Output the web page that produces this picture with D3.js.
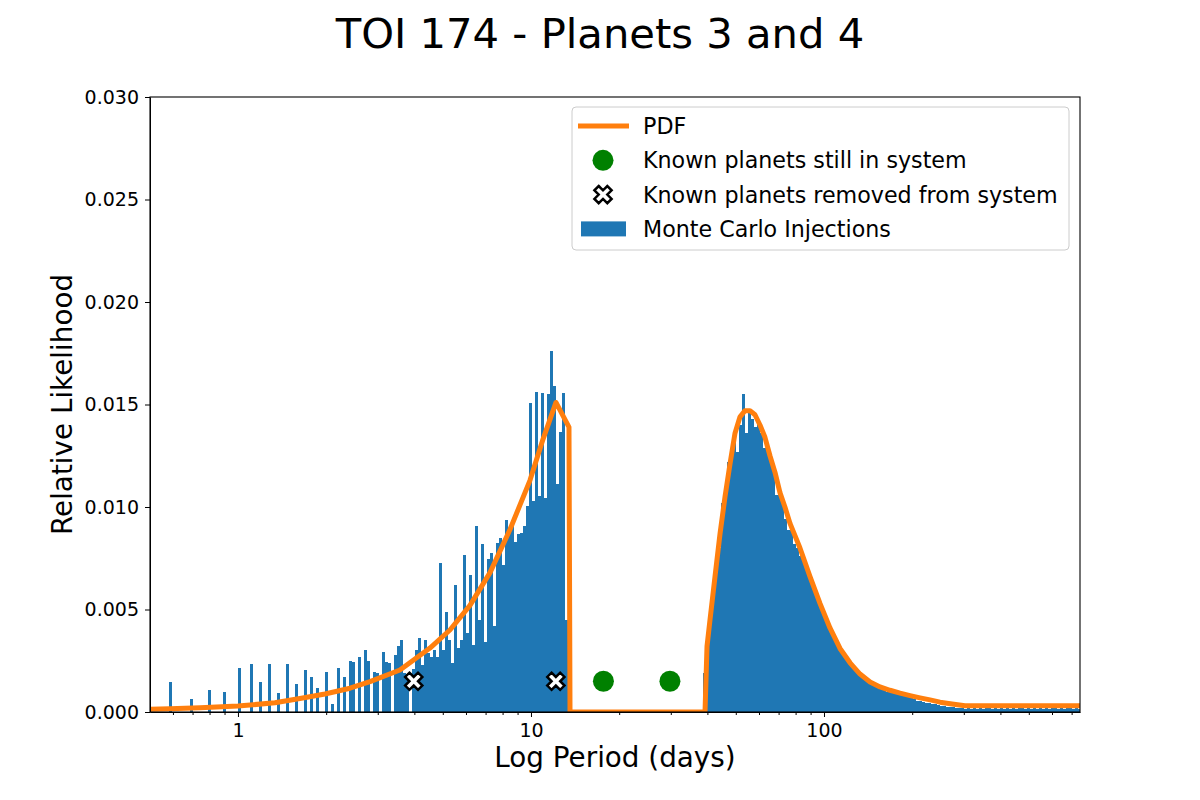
<!DOCTYPE html>
<html>
<head>
<meta charset="utf-8">
<script src="https://cdn.jsdelivr.net/npm/d3@7"></script>
<style>
  body { margin: 0; background: #fff; }
  svg { display: block; font-family: "DejaVu Sans", sans-serif; }
</style>
</head>
<body>
<script>
// histogram bins are even in log10(period)
const binLogStart = -0.2355;
const binLogWidth = 0.01024;

// relative likelihood of each bin (Monte Carlo injections)
const injectionDensity = [
  0.00146, 0, 0, 0, 0, 0, 0, 0.00063, 0, 0,
  0, 0, 0, 0.00107, 0, 0, 0, 0, 0.00098, 0,
  0, 0, 0, 0.00215, 0, 0, 0, 0.00234, 0, 0,
  0.00146, 0, 0, 0.00234, 0, 0, 0.00093, 0, 0, 0.00234,
  0, 0, 0.00137, 0, 0, 0.00205, 0, 0.00171, 0, 0.00117,
  0, 0, 0.00195, 0, 0.00039, 0, 0.00215, 0, 0.00171, 0,
  0.00249, 0.00244, 0, 0.00268, 0, 0.00302, 0.00249, 0, 0.00195, 0.0019,
  0, 0.00293, 0.00244, 0.00239, 0, 0.00278, 0.00322, 0.00351, 0.0019, 0.00185,
  0, 0.0021, 0.00302, 0.00361, 0.0023, 0.00351, 0.00288, 0.00268, 0.00302, 0.00268,
  0.00727, 0.00302, 0.0049, 0.00351, 0.0024, 0.0062, 0.00312, 0.00351, 0.00766, 0.00385,
  0.00668, 0.00327, 0.00907, 0.00449, 0.0082, 0.00341, 0.00746, 0.00776, 0.0042, 0.00824,
  0.00849, 0.00717, 0.00937, 0.00893, 0.00937, 0.00829, 0.00868, 0.00873, 0.00907, 0.01005,
  0.01507, 0.01029, 0.01561, 0.01054, 0.01556, 0.01044, 0.01551, 0.01761, 0.0159, 0.01112,
  0.01366, 0.01556, 0.00449, 0, 0, 0, 0, 0, 0, 0,
  0, 0, 0, 0, 0, 0, 0, 0, 0, 0,
  0, 0, 0, 0, 0, 0, 0, 0, 0, 0,
  0, 0, 0, 0, 0, 0, 0, 0, 0, 0,
  0, 0, 0, 0, 0, 0, 0, 0, 0.0019, 0.0036,
  0.0050, 0.0063, 0.0068, 0.0080, 0.0102, 0.0103, 0.0122, 0.0124, 0.0137, 0.0127,
  0.0140, 0.0155, 0.0136, 0.0147, 0.0143, 0.0139, 0.0142, 0.0136, 0.0129, 0.0128,
  0.0124, 0.0118, 0.0106, 0.0110, 0.0104, 0.0094, 0.0089, 0.0089, 0.0082, 0.0080,
  0.0076, 0.0074, 0.0071, 0.0067, 0.0063, 0.0059, 0.0055, 0.0051, 0.0048, 0.0044,
  0.0041, 0.0038, 0.0035, 0.0032, 0.0030, 0.0027, 0.0025, 0.0023, 0.0021, 0.0019,
  0.0018, 0.0017, 0.0016, 0.0015, 0.0014, 0.0013, 0.0012, 0.0012, 0.0011, 0.0010,
  0.00098, 0.00094, 0.0009, 0.00086, 0.00082, 0.00077, 0.00072, 0.00066, 0.00061, 0.00056,
  0.00052, 0.00049, 0.00046, 0.00043, 0.0004, 0.00037, 0.00034, 0.00031, 0.00028, 0.00026,
  0.00024, 0.00022, 0.0002, 0.00019, 0.00018, 0.00017, 0.00018, 0.00017, 0.00018, 0.00017,
  0.00018, 0.00017, 0.00018, 0.00018, 0.00017, 0.00018, 0.00017, 0.00018, 0.00017, 0.00018,
  0.00017, 0.00018, 0.00017, 0.00018, 0.00018, 0.00017, 0.00018, 0.00017, 0.00018, 0.00017,
  0.00018, 0.00017, 0.00018, 0.00017, 0.00018, 0.00018, 0.00017, 0.00018, 0.00017, 0.00018,
  0.00018, 0.00017, 0.00018, 0.00017
];

// PDF curve samples
const pdfPeriods = [
  0.501, 0.586, 0.742, 1.0, 1.337, 1.627, 1.981, 2.412, 2.822, 3.572,
  4.521, 5.29, 6.192, 7.247, 8.479, 9.922, 10.99, 12.17, 13.48, 13.59,
  39.26, 39.88, 40.83, 42.46, 44.18, 45.94, 47.78, 49.69, 51.69, 53.76,
  55.89, 58.14, 60.46, 62.88, 65.4, 68.02, 70.75, 73.57, 76.56, 82.79,
  89.59, 96.89, 104.8, 113.4, 122.7, 132.7, 143.6, 155.3, 168.0, 181.8,
  196.6, 212.7, 230.1, 248.9, 273.5, 302.8, 747.6
];
const pdfValues = [
  0.00014, 0.00016, 0.00021, 0.00029, 0.00045, 0.00066, 0.00088, 0.00116, 0.00148, 0.00205,
  0.00312, 0.0040, 0.0052, 0.0068, 0.0089, 0.0113, 0.0133, 0.0151, 0.0139, 0,
  0, 0.0032, 0.0045, 0.0066, 0.0087, 0.0105, 0.0121, 0.0136, 0.0144, 0.0147,
  0.0147, 0.0145, 0.0140, 0.0134, 0.0125, 0.0117, 0.0107, 0.0100, 0.0092, 0.0080,
  0.0066, 0.0053, 0.0041, 0.0031, 0.0024, 0.00185, 0.00146, 0.00122, 0.00106, 0.00092,
  0.0008, 0.00069, 0.00059, 0.00048, 0.00039, 0.0003, 0.0003
];

const keptPlanets = [17.67, 29.8];
const removedPlanets = [3.98, 12.16];
const markerLevel = 0.0015;

const xTickValues = [1, 10, 100];
const yTickValues = [0, 0.005, 0.01, 0.015, 0.02, 0.025, 0.03];
const legendLabels = [
  "PDF",
  "Known planets still in system",
  "Known planets removed from system",
  "Monte Carlo Injections"
];

const width = 1200;
const height = 800;
const plot = { left: 150, right: 1080, top: 97, bottom: 712 };
const blue = "#1f77b4";
const orange = "#ff7f0e";
const green = "#008000";

const svg = d3.select("body").append("svg")
  .attr("width", width)
  .attr("height", height);

const x = d3.scaleLog()
  .domain([0.501, 747.6])
  .range([plot.left, plot.right]);

const y = d3.scaleLinear()
  .domain([0, 0.03])
  .range([plot.bottom, plot.top]);

svg.append("defs").append("clipPath")
  .attr("id", "clip")
  .append("rect")
  .attr("x", plot.left)
  .attr("y", plot.top)
  .attr("width", plot.right - plot.left)
  .attr("height", plot.bottom - plot.top);

const bins = injectionDensity.map((v, i) => ({
  p0: Math.pow(10, binLogStart + i * binLogWidth),
  p1: Math.pow(10, binLogStart + (i + 1) * binLogWidth),
  v
}));

const chart = svg.append("g").attr("clip-path", "url(#clip)");

chart.append("g")
  .selectAll("rect")
  .data(bins.filter(d => d.v > 0))
  .join("rect")
  .attr("x", d => x(d.p0))
  .attr("width", d => x(d.p1) - x(d.p0))
  .attr("y", d => y(d.v))
  .attr("height", d => y(0) - y(d.v))
  .attr("fill", blue)
  .attr("shape-rendering", "crispEdges");

const line = d3.line()
  .x(d => x(d[0]))
  .y(d => y(d[1]));

chart.append("path")
  .datum(pdfPeriods.map((p, i) => [p, pdfValues[i]]))
  .attr("d", line)
  .attr("fill", "none")
  .attr("stroke", orange)
  .attr("stroke-width", 5)
  .attr("stroke-linejoin", "round");

const xMarker = d3.symbol(d3.symbolCross, 185);

svg.append("g")
  .selectAll("circle")
  .data(keptPlanets)
  .join("circle")
  .attr("cx", d => x(d))
  .attr("cy", y(markerLevel))
  .attr("r", 10.5)
  .attr("fill", green);

svg.append("g")
  .selectAll("path")
  .data(removedPlanets)
  .join("path")
  .attr("d", xMarker)
  .attr("transform", d => `translate(${x(d)},${y(markerLevel)}) rotate(45)`)
  .attr("fill", "#fff")
  .attr("stroke", "#000")
  .attr("stroke-width", 2.5);

// axes
const minorTicks = [];
[0.1, 1, 10, 100].forEach(dec => {
  for (let k = 2; k <= 9; k++) {
    const t = dec * k;
    if (t >= x.domain()[0] && t <= x.domain()[1]) minorTicks.push(t);
  }
});

const xAxis = svg.append("g")
  .attr("transform", `translate(0,${plot.bottom})`)
  .call(d3.axisBottom(x).tickValues(xTickValues).tickFormat(d3.format("d"))
    .tickSize(5).tickPadding(7).tickSizeOuter(0));

svg.append("g")
  .attr("transform", `translate(0,${plot.bottom})`)
  .call(d3.axisBottom(x).tickValues(minorTicks).tickFormat("")
    .tickSize(3).tickSizeOuter(0))
  .call(g => g.select(".domain").remove());

const yAxis = svg.append("g")
  .attr("transform", `translate(${plot.left},0)`)
  .call(d3.axisLeft(y).tickValues(yTickValues).tickFormat(d3.format(".3f"))
    .tickSize(5).tickPadding(6).tickSizeOuter(0));

[xAxis, yAxis].forEach(g => g
  .attr("font-family", "DejaVu Sans, sans-serif")
  .attr("font-size", 19)
  .selectAll("text").attr("fill", "#000"));

svg.selectAll(".tick line").attr("stroke", "#000");

// frame
svg.append("rect")
  .attr("x", plot.left)
  .attr("y", plot.top)
  .attr("width", plot.right - plot.left)
  .attr("height", plot.bottom - plot.top)
  .attr("fill", "none")
  .attr("stroke", "#000")
  .attr("stroke-width", 1.1);

// titles
svg.append("text")
  .attr("x", 600)
  .attr("y", 48)
  .attr("text-anchor", "middle")
  .attr("font-size", 41.7)
  .text("TOI 174 - Planets 3 and 4");

svg.append("text")
  .attr("x", (plot.left + plot.right) / 2)
  .attr("y", 767)
  .attr("text-anchor", "middle")
  .attr("font-size", 27.8)
  .text("Log Period (days)");

svg.append("text")
  .attr("transform", `translate(72,${(plot.top + plot.bottom) / 2}) rotate(-90)`)
  .attr("text-anchor", "middle")
  .attr("font-size", 27.8)
  .text("Relative Likelihood");

// legend
const legend = svg.append("g").attr("transform", "translate(572,107)");

legend.append("rect")
  .attr("width", 497)
  .attr("height", 143)
  .attr("rx", 4)
  .attr("fill", "#fff")
  .attr("fill-opacity", 0.8)
  .attr("stroke", "#cccccc");

const rowY = i => 19 + i * 34.3;

legend.append("line")
  .attr("x1", 6).attr("x2", 57)
  .attr("y1", rowY(0)).attr("y2", rowY(0))
  .attr("stroke", orange)
  .attr("stroke-width", 5);

legend.append("circle")
  .attr("cx", 31).attr("cy", rowY(1))
  .attr("r", 10.5)
  .attr("fill", green);

legend.append("path")
  .attr("d", xMarker)
  .attr("transform", `translate(31,${rowY(2)}) rotate(45)`)
  .attr("fill", "#fff")
  .attr("stroke", "#000")
  .attr("stroke-width", 2.5);

legend.append("rect")
  .attr("x", 9).attr("y", rowY(3) - 7.5)
  .attr("width", 45).attr("height", 15)
  .attr("fill", blue);

legend.selectAll("text.label")
  .data(legendLabels)
  .join("text")
  .attr("class", "label")
  .attr("x", 71)
  .attr("y", (d, i) => rowY(i) + 8)
  .attr("font-size", 22.2)
  .text(d => d);
</script>
</body>
</html>
